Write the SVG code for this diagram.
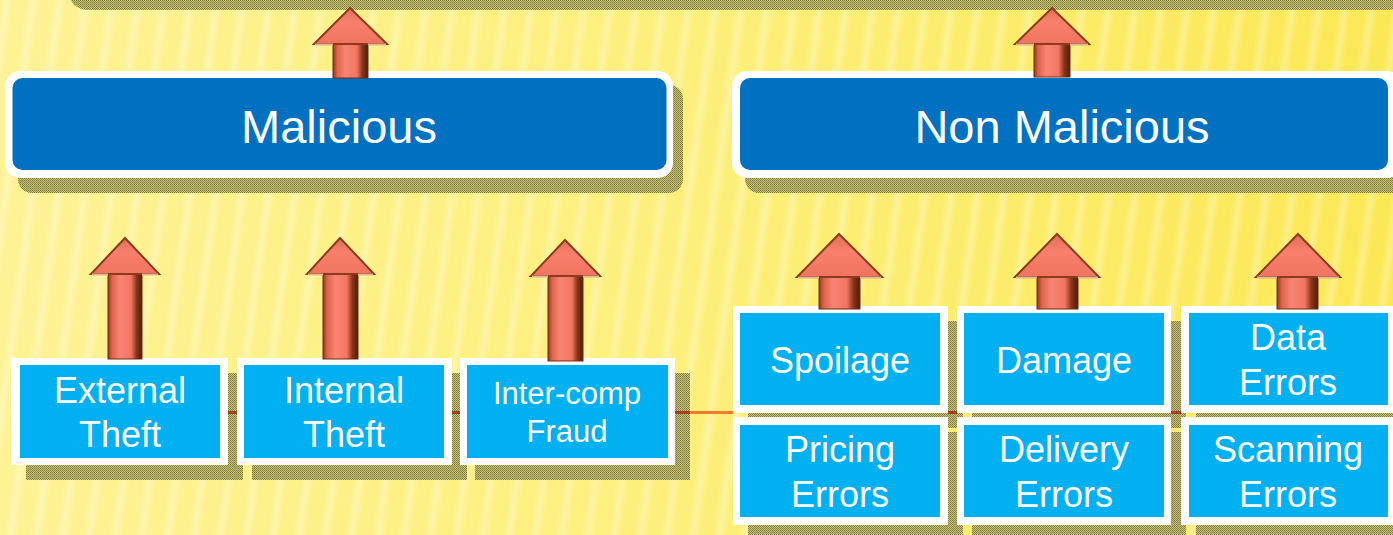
<svg xmlns="http://www.w3.org/2000/svg" width="1393" height="535" viewBox="0 0 1393 535">
<defs>
<linearGradient id="bg" x1="0" y1="0" x2="1" y2="0">
<stop offset="0" stop-color="#FDF294"/>
<stop offset="0.5" stop-color="#FCEF7A"/>
<stop offset="1" stop-color="#FBE855"/>
</linearGradient>
<linearGradient id="stripeG" x1="0" y1="0" x2="1" y2="0">
<stop offset="0" stop-color="#FFFFFF" stop-opacity="0"/>
<stop offset="0.5" stop-color="#FFFFFF" stop-opacity="0.3"/>
<stop offset="1" stop-color="#FFFFFF" stop-opacity="0"/>
</linearGradient>
<pattern id="stripes" patternUnits="userSpaceOnUse" width="26" height="700" patternTransform="rotate(8)">
<rect x="0" y="0" width="14" height="700" fill="url(#stripeG)"/>
</pattern>
<pattern id="hatch" patternUnits="userSpaceOnUse" width="2" height="2">
<rect width="2" height="2" fill="#C9C173"/>
<rect x="0" y="0" width="1" height="1" fill="#7E7A44"/>
<rect x="1" y="1" width="1" height="1" fill="#8E8A4C"/>
</pattern>
<linearGradient id="shaftG" x1="0" y1="0" x2="1" y2="0">
<stop offset="0" stop-color="#8E3A1C"/>
<stop offset="0.12" stop-color="#DC654C"/>
<stop offset="0.35" stop-color="#F98473"/>
<stop offset="0.68" stop-color="#F27562"/>
<stop offset="0.84" stop-color="#8A3418"/>
<stop offset="1" stop-color="#4E1C0A"/>
</linearGradient>
<linearGradient id="headG" x1="0" y1="0" x2="0" y2="1">
<stop offset="0" stop-color="#E07055"/>
<stop offset="0.4" stop-color="#F8806C"/>
<stop offset="1" stop-color="#F07460"/>
</linearGradient>
<style>
.big{fill:#0070C0}
.small{fill:#00B0F0}
.wb{fill:#FFFFFF}
.sh{fill:url(#hatch)}
.t{font-family:"Liberation Sans",Arial,sans-serif;fill:#FFFFFF;text-anchor:middle}
.t47{font-size:47px}
.t36{font-size:36px}
.t31{font-size:31px}
.shaft{fill:url(#shaftG);stroke:#6E2C12;stroke-width:1}
.head{fill:url(#headG);stroke:#8A3C1C;stroke-width:2;stroke-linejoin:miter}
.hb{stroke:#E8B093;stroke-width:2;fill:none}
.ln{stroke:#F47A30;stroke-width:3;fill:none}
.lnd{stroke:#A5401C;stroke-width:3;fill:none}
</style>
</defs>

<rect width="1393" height="535" fill="url(#bg)"/>
<rect width="1393" height="535" fill="url(#stripes)"/>

<rect x="68" y="-30" width="1340" height="40" rx="20" class="sh"/>

<g id="shadows">
<rect x="18" y="85" width="665" height="108" rx="14" class="sh"/>
<rect x="745" y="85" width="680" height="108" rx="14" class="sh"/>
<rect x="26" y="373" width="217" height="107" class="sh"/>
<rect x="252" y="373" width="215" height="107" class="sh"/>
<rect x="475" y="373" width="215" height="107" class="sh"/>
<rect x="748" y="321" width="215" height="107" class="sh"/>
<rect x="972" y="321" width="214" height="107" class="sh"/>
<rect x="1196" y="321" width="215" height="107" class="sh"/>
<rect x="748" y="432" width="215" height="108" class="sh"/>
<rect x="972" y="432" width="214" height="108" class="sh"/>
<rect x="1196" y="432" width="215" height="108" class="sh"/>
</g>

<g id="connectors">
<path d="M228,412.5 H243 M452,412.5 H467 M675,412.5 H690 M948,412.5 H957 M1171,412.5 H1181" class="lnd"/>
<path d="M690,412.5 H733" class="ln"/>
</g>

<g id="malicious">
<rect x="5" y="71" width="668" height="107" rx="15" class="wb"/>
<rect x="12.5" y="78" width="654" height="92" rx="10" class="big"/>
<text x="339" y="143" class="t t47">Malicious</text>
</g>

<g id="non-malicious">
<rect x="732" y="71" width="670" height="107" rx="15" class="wb"/>
<rect x="740" y="78" width="648" height="92" rx="10" class="big"/>
<text x="1062" y="143" class="t t47">Non Malicious</text>
</g>

<g id="external-theft">
<rect x="11" y="358" width="217" height="107" class="wb"/>
<rect x="20" y="365" width="200" height="93" class="small"/>
<text x="120" y="403" class="t t36">External</text>
<text x="120" y="447" class="t t36">Theft</text>
</g>

<g id="internal-theft">
<rect x="237" y="358" width="215" height="107" class="wb"/>
<rect x="244" y="365" width="200" height="93" class="small"/>
<text x="344" y="403" class="t t36">Internal</text>
<text x="344" y="447" class="t t36">Theft</text>
</g>

<g id="inter-comp-fraud">
<rect x="460" y="358" width="215" height="107" class="wb"/>
<rect x="467" y="365" width="201" height="93" class="small"/>
<text x="567" y="404" class="t t31">Inter-comp</text>
<text x="567" y="442" class="t t31">Fraud</text>
</g>

<g id="spoilage">
<rect x="733" y="306" width="215" height="107" class="wb"/>
<rect x="740" y="313" width="200" height="92" class="small"/>
<text x="840" y="373" class="t t36">Spoilage</text>
</g>

<g id="damage">
<rect x="957" y="306" width="214" height="107" class="wb"/>
<rect x="964" y="313" width="200" height="92" class="small"/>
<text x="1064" y="373" class="t t36">Damage</text>
</g>

<g id="data-errors">
<rect x="1181" y="306" width="215" height="107" class="wb"/>
<rect x="1189" y="313" width="199" height="92" class="small"/>
<text x="1288" y="350" class="t t36">Data</text>
<text x="1288" y="395" class="t t36">Errors</text>
</g>

<g id="pricing-errors">
<rect x="733" y="417" width="215" height="108" class="wb"/>
<rect x="740" y="425" width="200" height="92" class="small"/>
<text x="840" y="462" class="t t36">Pricing</text>
<text x="840" y="507" class="t t36">Errors</text>
</g>

<g id="delivery-errors">
<rect x="957" y="417" width="214" height="108" class="wb"/>
<rect x="964" y="425" width="200" height="92" class="small"/>
<text x="1064" y="462" class="t t36">Delivery</text>
<text x="1064" y="507" class="t t36">Errors</text>
</g>

<g id="scanning-errors">
<rect x="1181" y="417" width="215" height="108" class="wb"/>
<rect x="1189" y="425" width="199" height="92" class="small"/>
<text x="1288" y="462" class="t t36">Scanning</text>
<text x="1288" y="507" class="t t36">Errors</text>
</g>

<g id="arrows">
<g>
<rect x="333" y="43" width="35" height="35" class="shaft"/>
<polygon points="350,8 387,44 314,44" class="head"/>
<path d="M315,44.5 H333 M368,44.5 H386" class="hb"/>
</g>
<g>
<rect x="1034" y="43" width="36" height="34" class="shaft"/>
<polygon points="1052,8 1089,44 1015,44" class="head"/>
<path d="M1016,44.5 H1034 M1070,44.5 H1088" class="hb"/>
</g>
<g>
<rect x="108" y="273" width="34" height="86" class="shaft"/>
<polygon points="125,238 159,274 91,274" class="head"/>
<path d="M92,274.5 H108 M142,274.5 H158" class="hb"/>
</g>
<g>
<rect x="323" y="273" width="35" height="86" class="shaft"/>
<polygon points="340,238 374,274 307,274" class="head"/>
<path d="M308,274.5 H323 M358,274.5 H373" class="hb"/>
</g>
<g>
<rect x="548" y="275" width="35" height="86" class="shaft"/>
<polygon points="565,240 600,276 531,276" class="head"/>
<path d="M532,276.5 H548 M583,276.5 H599" class="hb"/>
</g>
<g>
<rect x="819" y="276" width="41" height="33" class="shaft"/>
<polygon points="839,234 882,277 797,277" class="head"/>
<path d="M798,277.5 H819 M860,277.5 H881" class="hb"/>
</g>
<g>
<rect x="1037" y="276" width="41" height="33" class="shaft"/>
<polygon points="1057,234 1099,277 1015,277" class="head"/>
<path d="M1016,277.5 H1037 M1078,277.5 H1098" class="hb"/>
</g>
<g>
<rect x="1277" y="276" width="41" height="33" class="shaft"/>
<polygon points="1298,234 1340,277 1256,277" class="head"/>
<path d="M1257,277.5 H1277 M1318,277.5 H1339" class="hb"/>
</g>
</g>
</svg>
